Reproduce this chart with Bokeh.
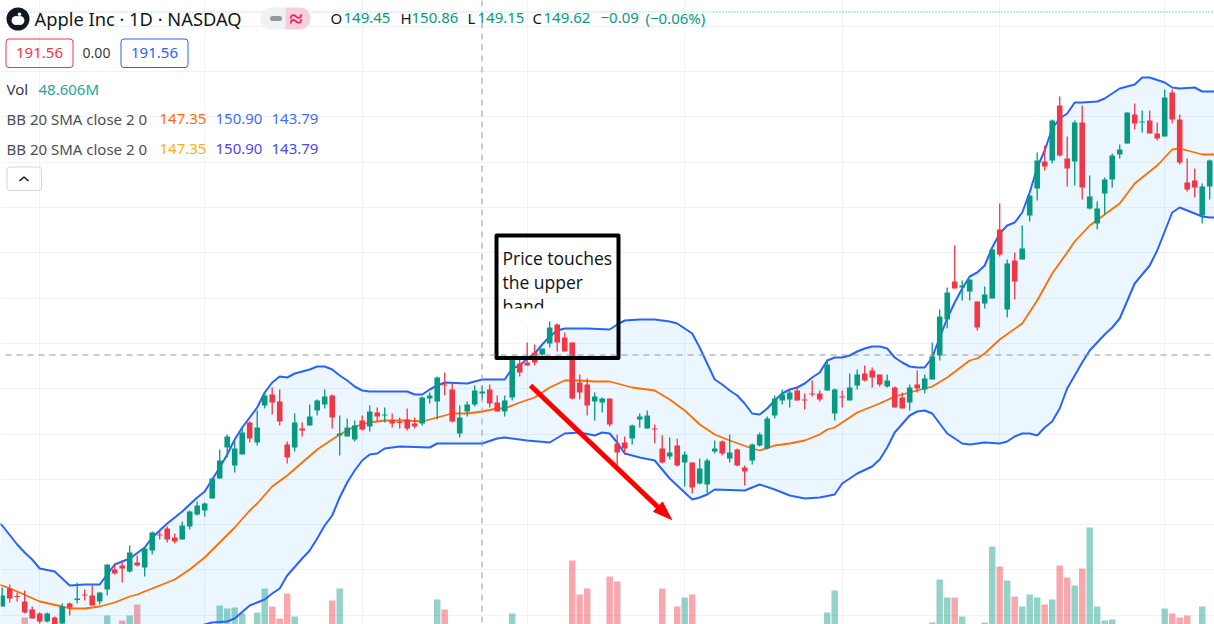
from bokeh.embed import file_html
from bokeh.resources import INLINE
from bokeh.plotting import figure
from bokeh.models import Range1d, Grid, FixedTicker, BoxAnnotation, ColumnDataSource
from bokeh.core.properties import value

# The reference shows no price scale, so values are in chart units.
high = [37,40,32,34,18,12,12,8,21,22,42,35,39,32,60,61,64,79,69,77,93,95,98,91,103,114,123,122,146,175,
        190,183,198,203,214,232,237,235,183,211,202,220,225,235,230,209,206,204,209,219,217,217,211,207,216,207,228,232,248,252,
        242,219,223,239,239,240,229,229,266,266,282,280,276,303,301,292,282,250,246,232,227,226,190,188,200,211,214,200,189,187,
        186,173,162,166,166,184,184,190,176,159,181,192,208,229,235,234,238,231,244,234,265,236,234,251,255,259,257,250,250,238,
        232,240,254,250,282,315,337,379,344,345,323,338,375,421,365,372,399,429,472,479,505,528,488,504,519,449,423,447,471,480,
        512,521,514,514,502,535,535,510,466,456,441,465]
open_ = [18,36,28.5,23,15,11,3,7,1,21,24.5,30,29,23,35,55,59,53,62,57,74,90,96,87,85,98,110,114,126,146,
         177,159,170,202,182,219,230,223,180,177,196,199,214,220,229,189,188,185,204,198,212,209,204,202.5,205,201,201,226,223,240,
         235,191,213,220,231,235,222,213,227,261,262,272,270,281,300,287,282,242,240,223,222,226,181,182,186,205,196,196,176,168,
         179,162,162,141,140,173,183,166,175,157,164,179,176,209,224,225,234,225,231,231,234,211,228,224,239,251,254,250,238,237,
         227,222,240,235,245,269,305,343,337,333,323,321,326,395,315,364,365,409,436,463,464,519,466,463,502,416,401,431,445,470,
         481,510,502,504,491,488,532,505,442,444,409,438]
close_ = [29,26,27.5,12,6,3,11,-2,18,17,26,29,19,32,60,51,56,72,59,76,92,89,85,83,99,113,119,121,146,164,
          188,176,192,186,197,229,222,203,167,202,194,208,224,228,207,191,197,199,195,213,208,210,201,201.5,196,198,227,229,247,239,
          203,207,220,234,233,221,213,224,265,252,259,262,276,297,282,273,226,232,219,228,226,200,172,176,199,208,209,195,162,172,
          159,170,137,156,164,176,171,172,159,153,180,190,206,226,230,232,224,224,230,225,260,235,227,237,250,244,247,240,244,217,
          216,237,236,246,268,308,332,336,339,345,297,330,375,370,361,343,376,429,464,458,504,469,456,502,437,428,416,445,469,475,
          512,501,503,491,486,527,505,462,435,437,438,464]
low = [18,22,23,11,6,1,2,-3,0,9,21,24,19,20,29,50,42,52,58,48,70,85,82,81,85,95,109,108,126,146,
       167,152,170,182,179,216,210,199,161,173,188,199,209,216,196,169,188,183,194,193,203,202,197,196,194,196,199,221,205,229,
       202,187,208,218,225,217,213,208,224,248,259,259,268,277,273,273,225,225,209,204,212,198,159,170,180,197,196,181,161,165,
       158,138,131,140,131,171,169,162,158,139,160,178,175,206,220,217,224,215,228,223,234,204,217,224,235,243,237,238,237,217,
       216,214,232,231,245,264,296,336,324,324,294,316,326,368,307,325,365,403,424,454,461,468,438,439,425,415,395,410,437,466,
       481,495,492,491,484,488,501,460,433,427,401,425]

vol_index = [3,14,16,17,18,29,30,31,32,34,35,36,37,38,39,44,45,58,59,68,76,77,78,81,82,88,90,91,92,
             110,111,124,125,126,127,128,131,132,133,134,135,136,137,138,139,140,141,142,143,144,145,146,147,148,155,156,157,158,160]
vol_value = [7,9,4,9,20,19,16,17,11,12,36,18,6,31,8,24,36,25,15,11,64,30,36,48,43,36,18,27,30,
             12,34,2,45,27,27,8,2,78,58,44,28,18,30,27,20,25,59,47,39,56,97,18,4,5,16,11,7,9,18]

upper_i = [-1,0,2,3,4,5,7,8,9,11,13,14,15,17,19,20,21,22,24,26,27,28,29,30,31,32,33,34,35,36,37,38,39,41,42,43,44,45,46,47,48,49,54,55,56,57,58,59,62,63,64,67,
           68,69,70,71,72,73,74,75,78,81,82,83,85,87,89,90,91,92,93,94,95,96,97,98,99,100,101,102,103,104,105,106,107,108,109,110,111,112,113,114,115,116,117,118,119,120,121,122,123,124,125,126,127,
           128,129,130,131,132,133,134,135,136,137,138,139,140,141,142,143,144,146,147,149,151,152,153,155,156,157,159,160,161,162]
upper = [104,99,80,72,65,56,53,46,39,40,40,50,60,66,77,87,94,101,113,127,133,145,157,170,185,197,207,217,232,242,248,247,251,255,258,258,255,249,244,238,234,233,233,230,230,235,239,242,241,243,245,245,
         256,259,266,271,280,288,294,296,296,295,300,304,305,305,303,301,296,291,277,261,245,240,234,229,221,211,210,216,224,231,235,237,241,247,252,264,267,267,269,273,276,278,278,276,267,262,258,257,257,267,287,306,322,
         336,348,352,359,377,391,399,402,412,432,457,474,496,506,511,522,522,523,526,536,540,547,547,542,537,536,537,533,533,533]

basis_i = [-1,0,2,5,8,9,11,13,15,17,18,20,23,25,27,29,31,33,34,36,38,40,42,44,45,47,49,51,54,56,58,60,62,64,66,67,69,71,73,75,77,79,81,84,87,89,91,93,95,97,100,101,103,105,107,109,110,111,113,114,117,119,121,124,126,129,130,131,133,136,138,140,142,143,145,149,151,154,156,157,160,161,162]
basis = [41,39,33,23,18,16,16,18,22,28,30,36,45,55,67,82,97,114,121,138,149,162,175,185,190,198,202,204,204,203,207,211,211,213,216,216,222,227,237,244,244,243,243,237,234,225,214,200,190,184,176,174,179,181,184,190,195,197,207,212,221,228,232,238,247,264,266,271,285,301,324,351,372,383,399,421,441,459,475,476,470,470,470]

lower_i = [-1,10,20,27,28,30,31,33,34,35,36,37,38,40,41,42,43,44,45,46,47,48,49,50,51,53,57,58,61,64,66,67,70,73,75,77,79,80,81,82,83,85,87,89,92,93,94,95,99,101,103,105,107,109,111,112,114,116,117,118,119,121,122,123,124,126,128,129,131,133,134,135,136,137,138,139,140,141,142,143,144,145,146,147,148,149,151,153,154,156,157,160,161,162]
lower = [-30,-30,-25,0,2,3,6,19,22,25,31,36,49,66,74,86,99,109,127,142,154,164,170,171,176,178,177,181,181,181,186,187,184,182,191,192,189,192,191,182,171,167,164,146,125,127,130,135,134,140,135,129,126,127,130,141,151,158,165,177,192,209,213,214,211,191,181,180,182,181,183,188,191,191,189,197,203,216,236,249,262,274,282,290,297,306,341,359,374,412,417,408,407,407]

month_ticks = [5,27,48,70,91,112,133,155]
level_ticks = [598.5,553.5,508.5,462.5,417.5,372.5,326.5,281.5,236.5,190.5,145.5,100.5,55.5,9.5]

GREEN, RED, BLUE, ORANGE = "#089981", "#f23645", "#2962ff", "#ff6d00"
W, H = 1214, 624
p = figure(width=W, height=H, output_backend="svg", toolbar_location=None, tools="",
           x_axis_type=None, y_axis_type=None,
           x_range=Range1d(-1.7/7.5, (W-1.7)/7.5), y_range=Range1d(0, H),
           min_border=0, min_border_left=0, min_border_right=0, min_border_top=0, min_border_bottom=0,
           outline_line_color=None, background_fill_color="white")
p.extra_x_ranges["px"] = Range1d(0, W)
p.extra_y_ranges["py"] = Range1d(H, 0)
PX = dict(x_range_name="px", y_range_name="py")
p.add_layout(Grid(dimension=0, ticker=FixedTicker(ticks=month_ticks), grid_line_color="#f0f2f5", grid_line_width=1))
p.add_layout(Grid(dimension=1, ticker=FixedTicker(ticks=level_ticks), grid_line_color="#f0f2f5", grid_line_width=1))

def txt(x, y, s, color="#131722", size=15, font="Noto Sans", align="left", **kw):
    p.text([x], [y], text=[s], text_color=color, text_font_size=f"{size}px", text_font=value(font),
           text_align=align, text_baseline="middle", **PX, **kw)

# callout text, with its last line cut off by the box
NOTE = "Open Sans"
txt(502, 257.5, "Price touches", "#111111", 17.5, NOTE)
txt(502, 281.5, "the upper", "#111111", 17.5, NOTE)
txt(502, 305.5, "band", "#111111", 17.5, NOTE)
p.quad(left=[499], right=[616], top=[308], bottom=[325], fill_color="white", line_color=None, **PX)

# volume
vc = [GREEN if close_[i] >= open_[i] else RED for i in vol_index]
p.vbar(x=vol_index, top=vol_value, bottom=-10, width=0.86, fill_color=vc, fill_alpha=0.44, line_color=None)

# bands
p.patch(upper_i + lower_i[::-1], upper + lower[::-1], fill_color="#2196f3", fill_alpha=0.09, line_color=None)
p.line(upper_i, upper, line_color=BLUE, line_width=2)
p.line(lower_i, lower, line_color=BLUE, line_width=2)
p.line(basis_i, basis, line_color=ORANGE, line_width=1.8)

# candles
idx = list(range(len(high)))
colors = [GREEN if c >= o else RED for o, c in zip(open_, close_)]
src = ColumnDataSource(dict(i=idx, h=high, l=low, o=open_, c=close_, col=colors))
p.segment("i", "h", "i", "l", source=src, line_color="col", line_width=1.3)
p.vbar("i", 0.74, "o", "c", source=src, fill_color="col", line_color=None)

# arrow
p.line([530, 661], [385, 510], line_color="#ff0000", line_width=5, **PX, level="overlay")
p.patch([653, 662, 671], [511, 501.5, 519], fill_color="#ff0000", line_color="#ff0000", **PX, level="overlay")

# callout box
p.line([496, 618, 618, 496, 496, 618], [235, 235, 357.5, 357.5, 235, 235], line_color="black", line_width=4,
       line_join="round", **PX, level="overlay")

# crosshair and price line
p.line([5, W], [354.5, 354.5], line_color="#9598a1", line_width=1, line_dash="6 5", **PX, level="overlay")
p.line([481.5, 481.5], [0, H], line_color="#9598a1", line_width=1, line_dash="6 5", **PX, level="overlay")
p.line([0, 713], [11.5, 11.5], line_color="#089981", line_alpha=0.5, line_width=1, line_dash="1 2", **PX)
p.line([713, W], [11.5, 11.5], line_color="#089981", line_alpha=0.9, line_width=1, line_dash="1 2", **PX)

# header
p.scatter([17.5], [18.5], size=23, marker="circle", fill_color="#131722", line_color=None, **PX, level="overlay")
p.scatter([15.6, 19.4], [20, 20], size=[9, 9], marker="circle", fill_color="white", line_color=None, **PX, level="overlay")
p.scatter([19], [13.8], size=3.5, marker="circle", fill_color="white", line_color=None, **PX, level="overlay")
txt(34, 18, "Apple Inc · 1D · NASDAQ", "#131722", 18.3, level="overlay")
def box(l, r, t, b, fill=None, line=None, radius=3, width=1):
    p.add_layout(BoxAnnotation(left=l, right=r, top=t, bottom=b, x_range_name="px", y_range_name="py",
                               fill_color=fill, fill_alpha=1 if fill else 0,
                               line_color=line, line_alpha=1 if line else 0, line_width=width,
                               border_radius=radius, level="annotation", editable=False))
box(260, 285, 7, 29, fill="#eff1f4", radius=(11, 0, 0, 11))
box(285, 310, 7, 29, fill="#f7cfdc", radius=(0, 11, 11, 0))
p.line([272, 279], [18, 18], line_color="#9598a1", line_width=5, line_cap="round", **PX, level="overlay")
txt(295.5, 17, "≈", "#e91e63", 24, align="center", level="overlay", text_font_style="bold")

TEAL = "#089981"
for x, s, c in [(330, "O", "#131722"), (343, "149.45", TEAL), (400, "H", "#131722"), (411, "150.86", TEAL),
                (467, "L", "#131722"), (477, "149.15", TEAL), (532, "C", "#131722"), (543, "149.62", TEAL),
                (600, "−0.09", TEAL), (645, "(−0.06%)", TEAL)]:
    txt(x, 17.5, s, c, 15, level="overlay")

box(5.5, 72.5, 38.5, 67, line=RED)
txt(39, 52, "191.56", RED, 15, align="center", level="overlay")
txt(96, 52, "0.00", "#363a45", 14, align="center", level="overlay")
box(120.5, 187.5, 38.5, 67, line=BLUE)
txt(154, 52, "191.56", BLUE, 15, align="center", level="overlay")

txt(6, 88, "Vol", "#363a45", 15, level="overlay")
txt(38, 88, "48.606M", "#26a69a", 15, level="overlay")
for y, c1, c2 in [(118, "#ff6d00", "#3f6dff"), (148, "#ffb300", "#4c46f5")]:
    txt(6, y, "BB 20 SMA close 2 0", "#4a4e59", 15, level="overlay")
    txt(159, y, "147.35", c1, 15, level="overlay")
    txt(215, y, "150.90", c2, 15, level="overlay")
    txt(271, y, "143.79", c2, 15, level="overlay")
box(6.5, 41, 166.5, 190, line="#d1d4dc")
p.line([19, 23.5, 28], [180.5, 176.5, 180.5], line_color="#131722", line_width=1.6, **PX, level="overlay")

for name, arr in [("open", open_), ("close", close_), ("low", low)]:
    assert len(arr) == len(high), (name, len(arr), len(high))
assert len(upper) == len(upper_i) and len(lower) == len(lower_i) and len(basis) == len(basis_i) and len(vol_index) == len(vol_value), \
    (len(upper), len(upper_i), len(lower), len(lower_i), len(basis), len(basis_i), len(vol_index), len(vol_value))

open("out.html", "w").write(file_html(p, INLINE))
